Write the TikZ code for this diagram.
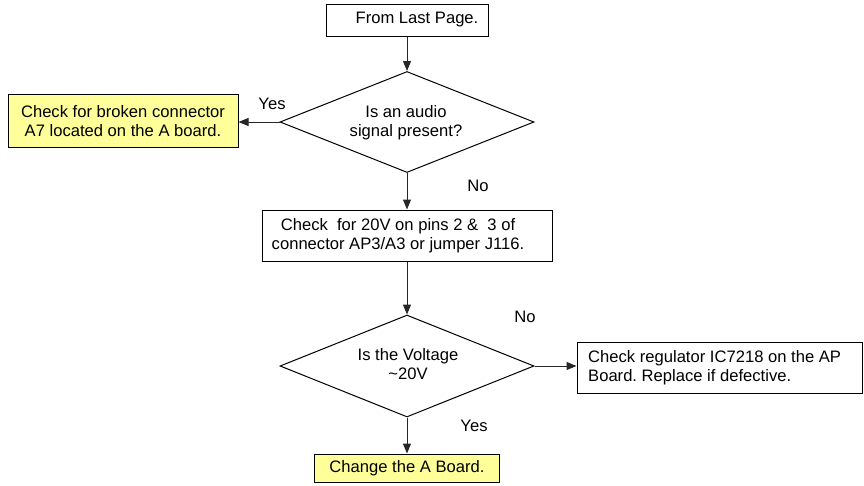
\documentclass[tikz,border=0pt]{standalone}
\usepackage{fontspec}
\setmainfont{Liberation Sans}
\usetikzlibrary{shapes.geometric,arrows.meta}
\definecolor{noteyellow}{RGB}{255,255,153}
\frenchspacing
\tikzset{
  every node/.style={font=\fontsize{16.6}{19}\selectfont},
  box/.style={draw=black, line width=1pt, rectangle, inner sep=0pt},
  notebox/.style={box, fill=noteyellow},
  decision/.style={draw=black, line width=1pt, diamond, inner sep=0pt},
  txt/.style={inner sep=0pt, align=center},
  flow/.style={draw=black!85, line width=1pt, -{Triangle[length=10pt,width=8pt]}},
}
\begin{document}
\begin{tikzpicture}[x=1pt, y=-1pt]
\useasboundingbox (0,0) rectangle (864,485);

% process boxes
\node[box, minimum width=162pt, minimum height=32pt] (start) at (407,20) {};
\node[txt] at (417,20) {From Last Page.};

\node[notebox, minimum width=230pt, minimum height=53pt, align=center] (broken) at (123,121)
  {Check for broken connector\\A7 located on the A board.};

\node[box, minimum width=290pt, minimum height=51pt] (measure) at (407,235.5) {};
\node[txt] at (398,235.5) {Check\ \ for 20V on pins 2 \&\ \ 3 of\\connector AP3/A3 or jumper J116.};

\node[box, minimum width=285pt, minimum height=51pt] (regulator) at (719.5,367.5) {};
\node[txt, align=left, anchor=west] at (588,367.5) {Check regulator IC7218 on the AP\\Board. Replace if defective.};

\node[notebox, minimum width=185pt, minimum height=28pt] (change) at (407,468) {Change the A Board.};

% decisions
\node[decision, minimum width=254pt, minimum height=101pt] (audio) at (407,122) {};
\node[txt] at (406,123) {Is an audio\\signal present?};

\node[decision, minimum width=254pt, minimum height=102pt] (voltage) at (407,366) {};
\node[txt] at (408,364) {Is the Voltage\\\textasciitilde 20V};

% connectors
\draw[flow] (start.south) -- (audio.north);
\draw[flow] (audio.west) -- (audio.west -| broken.east);
\draw[flow] (audio.south) -- (measure.north);
\draw[flow] (measure.south) -- (voltage.north);
\draw[flow] (voltage.east) -- (voltage.east -| regulator.west);
\draw[flow] (voltage.south) -- (change.north);

% branch labels
\node[txt] (yes1) at (272,104) {Yes};
\node[txt] (no1) at (478,186) {No};
\node[txt] (no2) at (525,317) {No};
\node[txt] (yes2) at (474,426) {Yes};
\end{tikzpicture}
\end{document}
